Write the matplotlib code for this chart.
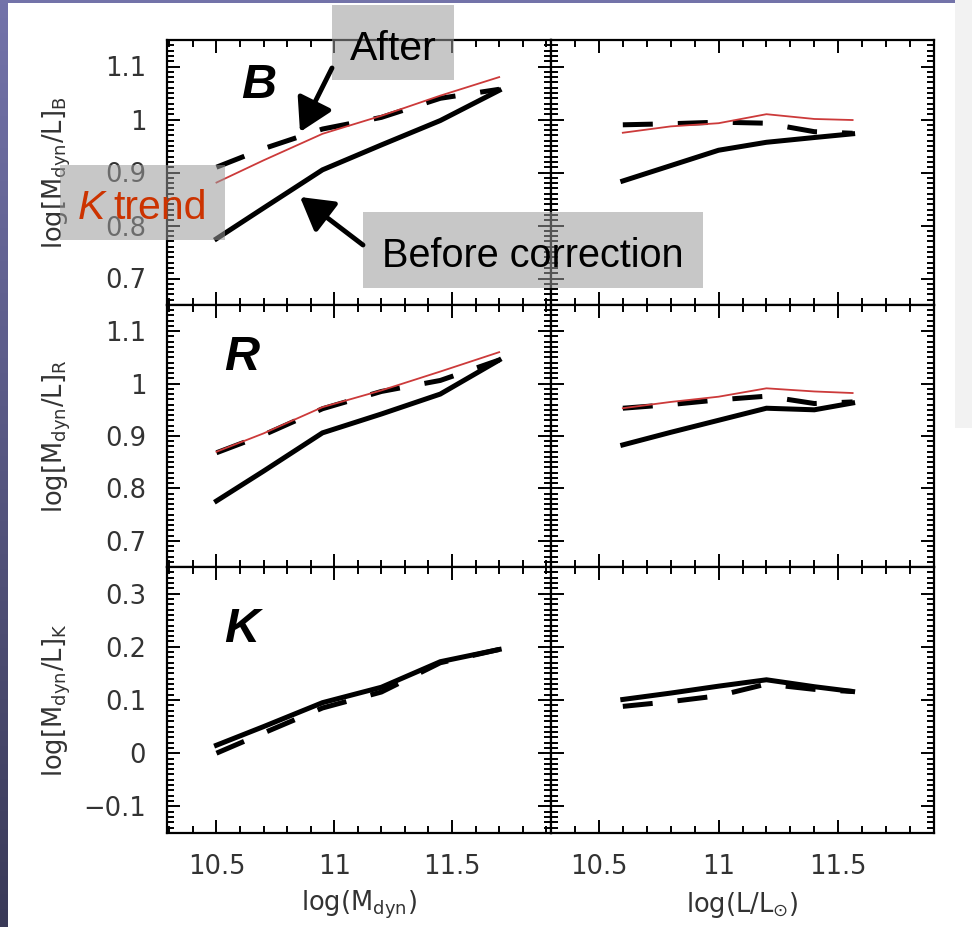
import numpy as np
import matplotlib
matplotlib.use("Agg")
import matplotlib.pyplot as plt
from matplotlib.patches import Rectangle, FancyArrowPatch
from matplotlib.ticker import MultipleLocator, FuncFormatter

# x positions of the binned values
mass_x = [10.5, 10.7, 10.95, 11.2, 11.45, 11.7]
lum_x = [10.6, 10.8, 11.0, 11.2, 11.4, 11.56]

# B band: before correction / after correction / K trend
b_mass_before = [0.775, 0.833, 0.905, 0.952, 0.998, 1.055]
b_mass_after = [0.910, 0.945, 0.982, 1.004, 1.040, 1.057]
b_mass_ktrend = [0.881, 0.923, 0.973, 1.007, 1.045, 1.080]
b_lum_before = [0.884, 0.913, 0.942, 0.957, 0.966, 0.973]
b_lum_after = [0.990, 0.992, 0.995, 0.993, 0.977, 0.974]
b_lum_ktrend = [0.975, 0.987, 0.993, 1.010, 1.001, 0.999]

# R band
r_mass_before = [0.776, 0.833, 0.906, 0.942, 0.980, 1.045]
r_mass_after = [0.868, 0.902, 0.952, 0.985, 1.006, 1.045]
r_mass_ktrend = [0.870, 0.905, 0.955, 0.987, 1.023, 1.060]
r_lum_before = [0.883, 0.907, 0.930, 0.953, 0.950, 0.963]
r_lum_after = [0.953, 0.960, 0.969, 0.976, 0.962, 0.965]
r_lum_ktrend = [0.953, 0.965, 0.975, 0.991, 0.985, 0.982]

# K band
k_mass_before = [0.015, 0.050, 0.095, 0.124, 0.172, 0.195]
k_mass_after = [0.000, 0.038, 0.085, 0.115, 0.170, 0.195]
k_lum_before = [0.101, 0.113, 0.126, 0.138, 0.125, 0.116]
k_lum_after = [0.088, 0.097, 0.108, 0.130, 0.120, 0.116]

bands = ["B", "R", "K"]
ylims = [(0.65, 1.15), (0.65, 1.15), (-0.15, 0.35)]
xlims = [(10.29, 11.92), (10.3, 11.9)]

W, H = 972, 927
narrow = ["Liberation Sans Narrow", "Liberation Sans", "DejaVu Sans"]


def fx(px):
    return px / W


def fy(py):
    return 1 - py / H


def tick_fmt(v, pos):
    s = f"{v:.2f}".rstrip("0").rstrip(".")
    if s in ("-0", "0"):
        return "0"
    return s.replace("-", "\u2212")


fig = plt.figure(figsize=(W / 100, H / 100), dpi=100)
fig.patch.set_facecolor("white")

# slide background bits
strip = fig.add_axes([0, 0, fx(7), 1])
grad = np.linspace(0, 1, 256)[:, None]
top_col = np.array([0x73, 0x73, 0xaa]) / 255
bot_col = np.array([0x3a, 0x3a, 0x58]) / 255
img = top_col[None, None, :] * (1 - grad[:, :, None]) + bot_col[None, None, :] * grad[:, :, None]
strip.imshow(img, aspect="auto", extent=[0, 1, 0, 1])
strip.axis("off")
fig.patches.append(Rectangle((0, fy(3)), fx(955), 3 / H, transform=fig.transFigure,
                             facecolor="#7373a9", edgecolor="none", zorder=1))
fig.patches.append(Rectangle((fx(955), fy(428)), fx(17), 428 / H, transform=fig.transFigure,
                             facecolor="#f2f2f2", edgecolor="none", zorder=1))

col_x = [(167, 551), (551, 934)]
row_y = [(40, 305), (305, 567), (567, 833)]

series = {
    (0, 0): (mass_x, b_mass_before, b_mass_after, b_mass_ktrend),
    (0, 1): (lum_x, b_lum_before, b_lum_after, b_lum_ktrend),
    (1, 0): (mass_x, r_mass_before, r_mass_after, r_mass_ktrend),
    (1, 1): (lum_x, r_lum_before, r_lum_after, r_lum_ktrend),
    (2, 0): (mass_x, k_mass_before, k_mass_after, None),
    (2, 1): (lum_x, k_lum_before, k_lum_after, None),
}

for i in range(3):
    for j in range(2):
        x0, x1 = col_x[j]
        y0, y1 = row_y[i]
        ax = fig.add_axes([fx(x0), fy(y1), (x1 - x0) / W, (y1 - y0) / H])
        xs, before, after, ktrend = series[(i, j)]
        ax.plot(xs, before, color="black", lw=3.6, solid_joinstyle="miter")
        ax.plot(xs, after, color="black", lw=3.6, linestyle=(0, (6, 5)))
        if ktrend is not None:
            ax.plot(xs, ktrend, color="#cc3a3a", lw=1.3)
        ax.set_xlim(*xlims[j])
        ax.set_ylim(*ylims[i])
        ax.xaxis.set_major_locator(MultipleLocator(0.5))
        ax.xaxis.set_minor_locator(MultipleLocator(0.1))
        ax.yaxis.set_major_locator(MultipleLocator(0.1))
        ax.yaxis.set_minor_locator(MultipleLocator(0.01))
        ax.tick_params(which="both", direction="in", top=True, right=True,
                       width=1.4, colors="black", labelcolor="#333333",
                       labelsize=18.5, pad=15)
        ax.tick_params(which="major", length=9.5)
        ax.tick_params(which="minor", length=5)
        ax.xaxis.set_major_formatter(FuncFormatter(tick_fmt))
        ax.yaxis.set_major_formatter(FuncFormatter(tick_fmt))
        for sp in ax.spines.values():
            sp.set_linewidth(1.6)
        if i < 2:
            ax.tick_params(labelbottom=False)
        if j == 1:
            ax.tick_params(labelleft=False)
        else:
            ax.set_ylabel(r"log[M$_{\rm dyn}$/L]$_{\rm %s}$" % bands[i], fontsize=18.5,
                          color="#333333", va="center")
            ax.yaxis.set_label_coords((57 - x0) / (x1 - x0), 0.5)
        if i == 2:
            label = r"log(M$_{\rm dyn}$)" if j == 0 else r"log(L/L$_{\odot}$)"
            ax.set_xlabel(label, fontsize=18.5, color="#333333", va="center")
            ax.xaxis.set_label_coords(0.5, -(905 - y1) / (y1 - y0))

# band letters
for band, (bx, by) in zip(bands, [(241, 98), (224, 370), (224, 642)]):
    fig.text(fx(bx), fy(by), band, family=narrow, fontsize=35, fontweight="bold",
             fontstyle="italic", ha="left", va="baseline", zorder=6)

# annotation boxes
box_col = "#9a9a9a"
for (bx0, by0, bx1, by1) in [(332, 5, 454, 80), (60, 165, 225, 240), (363, 212, 703, 288)]:
    fig.patches.append(Rectangle((fx(bx0), fy(by1)), (bx1 - bx0) / W, (by1 - by0) / H,
                                 transform=fig.transFigure, facecolor=box_col, alpha=0.55,
                                 edgecolor="none", zorder=5))

fig.text(fx(393), fy(60), "After", family=narrow, fontsize=29.5, ha="center",
         va="baseline", color="black", zorder=6)
fig.text(fx(533), fy(267), "Before correction", family=narrow, fontsize=28.5,
         ha="center", va="baseline", color="black", zorder=6)
fig.text(fx(78), fy(219), "K", family=narrow, fontsize=29.5, fontstyle="italic",
         ha="left", va="baseline", color="#cc3300", zorder=6)
fig.text(fx(113), fy(219), "trend", family=narrow, fontsize=29.5,
         ha="left", va="baseline", color="#cc3300", zorder=6)

for (tx, ty), (hx, hy) in [((332, 68), (300, 132)), ((363, 245), (300, 197))]:
    arr = FancyArrowPatch((fx(tx), fy(ty)), (fx(hx), fy(hy)), transform=fig.transFigure,
                          arrowstyle="-|>,head_length=0.55,head_width=0.32",
                          mutation_scale=36, lw=3.5, color="black",
                          shrinkA=0, shrinkB=0, zorder=7)
    fig.patches.append(arr)

plt.savefig("out.png", dpi=100)
